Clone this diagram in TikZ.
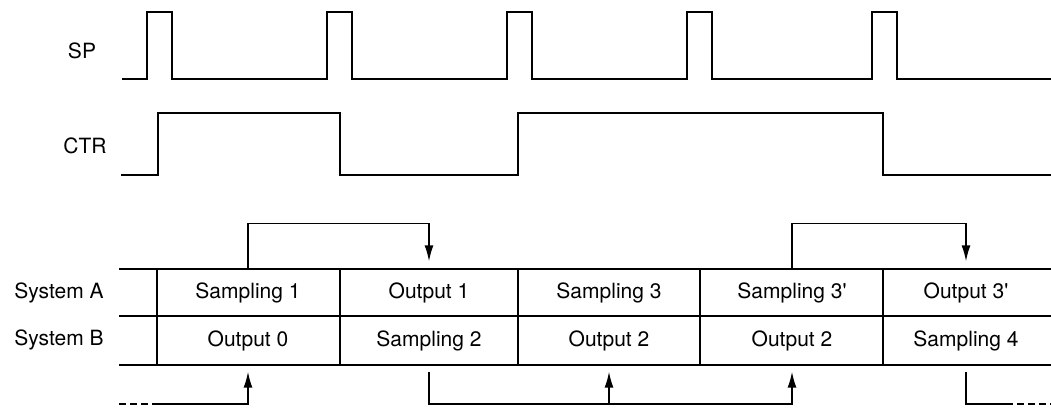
\documentclass[tikz,border=0pt]{standalone}
\usepackage{fontspec}
\setmainfont{TeX Gyre Heros}
\usetikzlibrary{arrows.meta,positioning}

\tikzset{
  wave/.style={line width=2.7pt,line join=miter},
  rule/.style={line width=2.8pt},
  sep/.style={line width=1.5pt},
  link/.style={line width=1.5pt},
  flow/.style={line width=1.5pt,-{Latex[length=16pt,width=9pt]}},
  tail/.style={line width=1.5pt,dash pattern=on 7pt off 4pt},
  cell/.style={minimum width=176pt,minimum height=46pt,inner sep=0pt},
  lbl/.style={inner sep=0pt}
}

\begin{document}
\begin{tikzpicture}[x=1pt,y=-1pt,font=\fontsize{21}{24}\selectfont]
\useasboundingbox (0,0) rectangle (1051,411);

\node[lbl] (sp) at (82,51) {SP};
\node[lbl] (ctr) at (85,146) {CTR};
\draw[wave] (122,79) foreach \x in {147,327,507,687,872} {-- (\x,79) -- (\x,12) -- (\x+25,12) -- (\x+25,79)} -- (1051,79);
\draw[wave] (121,175) -- (158,175) -- (158,113) -- (340,113) -- (340,175)
  -- (518,175) -- (518,113) -- (883,113) -- (883,175) -- (1051,175);

\draw[rule] (119,269) -- (1051,269) (119,316) -- (1051,316) (119,365) -- (1051,365);
\foreach \x in {157,340,518,700,883} \draw[sep] (\x,269) -- (\x,365);

\node[lbl] (sysA) at (59,293) {System A};
\node[lbl] (sysB) at (59,340) {System B};

\node[cell] (a1) at (248,292.5) {Sampling 1};
\node[cell] (a2) at (429,292.5) {Output 1};
\node[cell] (a3) at (609,292.5) {Sampling 3};
\node[cell] (a4) at (792,292.5) {Sampling 3\textquotesingle};
\node[cell] (a5) at (966,292.5) {Output 3\textquotesingle};
\node[cell] (b1) at (248,340.5) {Output 0};
\node[cell] (b2) at (429,340.5) {Sampling 2};
\node[cell] (b3) at (609,340.5) {Output 2};
\node[cell] (b4) at (792,340.5) {Output 2};
\node[cell] (b5) at (966,340.5) {Sampling 4};

\draw[flow] (a1.north) -- ++(0,-46) -| ([yshift=8pt]a2.north);
\draw[flow] (a4.north) -- ++(0,-46) -| ([yshift=8pt]a5.north);

\coordinate (in) at (119,404);
\coordinate (out) at (1051,404);
\draw[tail] (in) -- ++(34,0) coordinate (in2);
\draw[flow] (in2) -| ([yshift=-8pt]b1.south);
\draw[link] ([yshift=-8pt]b2.south) |- (in2 -| b3.south) coordinate (m);
\draw[flow] (m) -| ([yshift=-8pt]b4.south);
\draw[flow] (m) -- ([yshift=-8pt]b3.south);
\draw[link] ([yshift=-8pt]b5.south) |- ([xshift=40pt]in2 -| b5.south) coordinate (e);
\draw[tail] (e) -- (out);
\end{tikzpicture}
\end{document}
